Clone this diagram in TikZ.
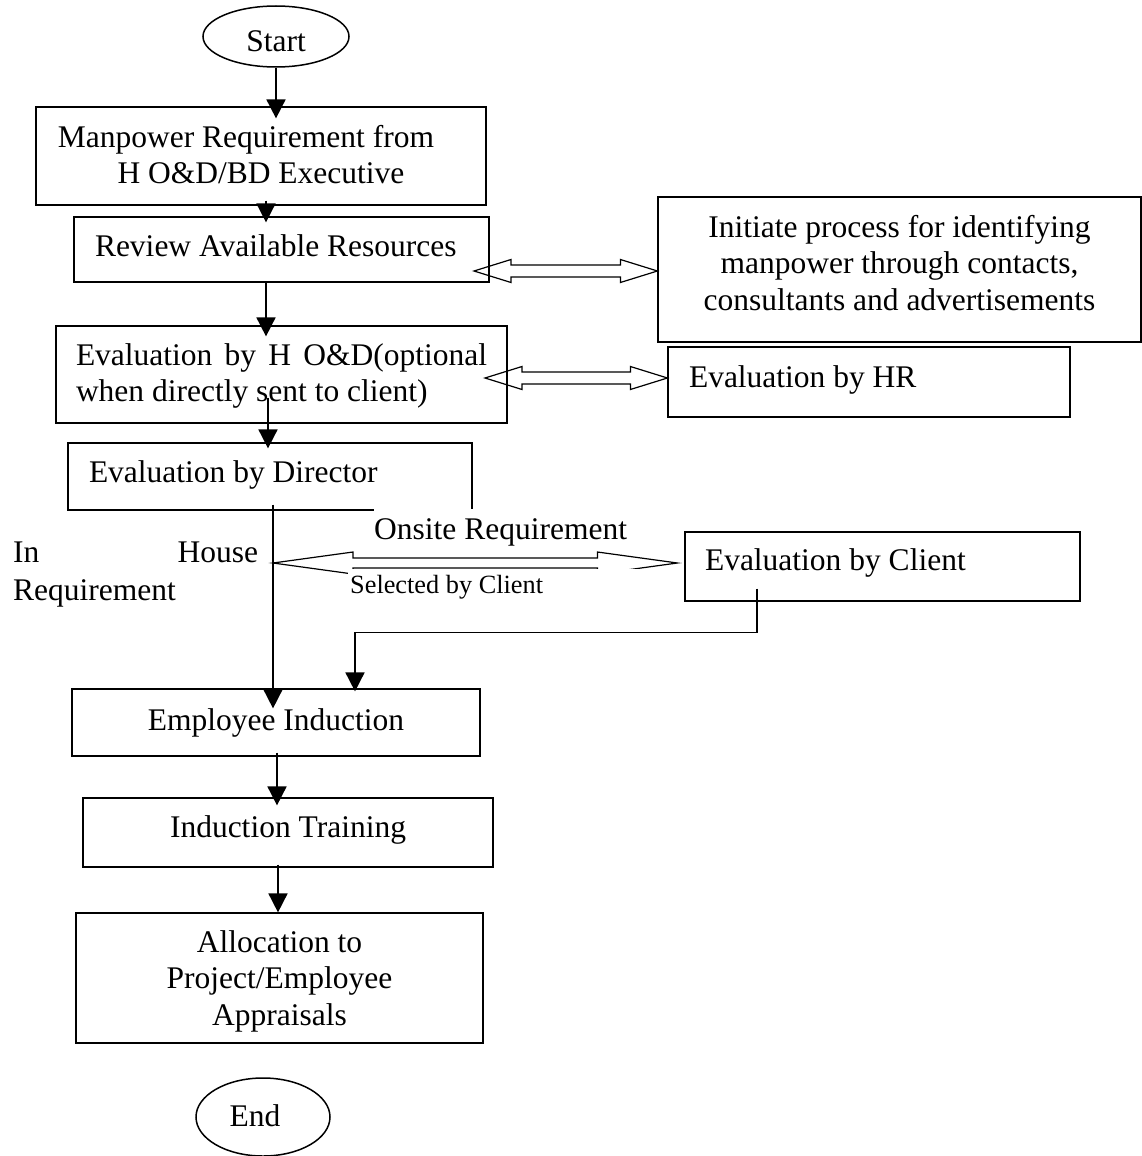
\documentclass[tikz,border=0pt]{standalone}
\usepackage{fontspec}
\setmainfont{Liberation Serif}
\usetikzlibrary{arrows.meta,shapes.geometric,calc}
\newcommand\bigf{\fontsize{31.5pt}{36.5pt}\selectfont}
\newcommand\ihf{\fontsize{31.5pt}{38pt}\selectfont}
\newcommand\smallf{\fontsize{26.3pt}{30pt}\selectfont}
\newcommand\nsp{\spaceskip=0.25em\xspaceskip=0.25em\relax}
% double block arrow: #1 left tip, #2 right tip, #3 head length, #4 shaft half height, #5 head half height
\newcommand\dblarr[5]{%
  \draw[blk] let \p1=(#1), \p2=(#2) in
    (\x1,\y1) -- (\x1+#3,\y1+#5) -- (\x1+#3,\y1+#4) -- (\x2-#3,\y1+#4) -- (\x2-#3,\y1+#5)
    -- (\x2,\y1) -- (\x2-#3,\y1-#5) -- (\x2-#3,\y1-#4) -- (\x1+#3,\y1-#4) -- (\x1+#3,\y1-#5) -- cycle;}
\begin{document}
\begin{tikzpicture}[x=1pt,y=-1pt,
  box/.style={draw,line width=1.2pt,inner sep=0pt,font=\bigf,rectangle},
  term/.style={ellipse,draw,line width=1.5pt,inner sep=0pt,font=\bigf},
  arr/.style={line width=1.7pt,-{Triangle[width=19pt,length=19pt]}},
  blk/.style={draw,line width=1.2pt,line join=miter}]
\useasboundingbox (0,0) rectangle (1142,1156);

% terminals
\node[term, minimum width=146pt, minimum height=61pt, text height=31pt, text depth=0pt] (start) at (276,36.5) {Start};
\node[term, minimum width=134pt, minimum height=78pt, text height=18pt, text depth=0pt] (end) at (263,1117) {End\hspace*{16pt}};

% process boxes
\node[box, minimum width=450pt, minimum height=98pt, text width=450pt, align=center, text height=0pt, text depth=18pt] (mp) at (261,156)
  {\nsp Manpower Requirement from\hspace*{30pt}\mbox{}\\H O\&D/BD Executive};
\node[box, minimum width=415pt, minimum height=65pt, text width=373pt, inner xsep=21pt, align=left, text height=13pt, text depth=0pt] (rv) at (281.5,249.5)
  {\nsp Review Available Resources};
\node[box, minimum width=483pt, minimum height=145pt, text width=483pt, align=center, text height=0pt, text depth=65pt] (ini) at (899.5,269.5)
  {\nsp Initiate process for identifying\\manpower through contacts,\\consultants and advertisements};
\node[box, minimum width=451pt, minimum height=97pt, text width=411pt, inner xsep=20pt, align=justify, text height=0pt, text depth=19pt] (ho) at (281.5,374.5)
  {Evaluation by H O\&D(optional when directly sent to client)};
\node[box, minimum width=402pt, minimum height=70pt, text width=360pt, inner xsep=21pt, align=left, text height=10pt, text depth=0pt] (hr) at (869,382)
  {\nsp Evaluation by HR};
\node[box, minimum width=404pt, minimum height=67pt, text width=362pt, inner xsep=21pt, align=left, text height=11pt, text depth=0pt] (dir) at (270,476.5)
  {\nsp Evaluation by Director};
\node[box, minimum width=395pt, minimum height=69pt, text width=355pt, inner xsep=20pt, align=left, text height=7pt, text depth=0pt] (cl) at (882.5,566.5)
  {\nsp Evaluation by Client};
\node[box, minimum width=408pt, minimum height=67pt, text width=408pt, align=center, text height=15pt, text depth=0pt] (ei) at (276,722.5)
  {\nsp Employee Induction};
\node[box, minimum width=410pt, minimum height=69pt, text width=410pt, align=center, text height=9pt, text depth=0pt] (it) at (288,832.5)
  {\nsp Induction Training};
\node[box, minimum width=407pt, minimum height=130pt, text width=407pt, align=center, text height=0pt, text depth=52pt] (al) at (279.5,978)
  {\nsp Allocation to\\Project/Employee\\Appraisals};

% free label
\node[font=\ihf, text width=245pt, align=left, inner sep=0pt, text height=22pt, text depth=0pt, anchor=north west] (ih) at (13,540)
  {In\hfill House\\Requirement};

% connectors
\draw[arr] (start.south) -- ([yshift=-12pt]start.south |- mp.north);
\draw[arr] ([xshift=5pt,yshift=5pt]mp.south) -- ([xshift=5pt,yshift=-6pt]mp.south |- rv.north);
\draw[arr] ([xshift=-15.5pt]rv.south) -- ([xshift=-15.5pt,yshift=-11pt]rv.south |- ho.north);
\draw[arr] ([xshift=-13.5pt,yshift=26pt]ho.south) -- ([xshift=-13.5pt,yshift=-6pt]ho.south |- dir.north);
\draw[arr] ([xshift=3pt,yshift=6pt]dir.south) -- ([xshift=3pt,yshift=-20pt]dir.south |- ei.north);
\draw[arr] ([xshift=-125.5pt,yshift=13pt]cl.south) -- ++(0,44) -| ([xshift=79pt,yshift=-3pt]ei.north);
\draw[arr] ([xshift=1pt,yshift=4pt]ei.south) -- ([xshift=1pt,yshift=-8pt]ei.south |- it.north);
\draw[arr] ([xshift=-10pt,yshift=3pt]it.south) -- ([xshift=-10pt]it.south |- al.north);

% double block arrows
\coordinate (a1) at (474,271);
\coordinate (a2) at (485,378);
\coordinate (a3) at (273,563);
\dblarr{a1}{a1 -| ini.west}{37pt}{6pt}{11.5pt}
\dblarr{a2}{a2 -| hr.west}{37pt}{6pt}{11.5pt}
\dblarr{a3}{[xshift=-7pt]a3 -| cl.west}{80pt}{5pt}{11pt}

% labels on the onsite arrow (white boxes hide what lies under them)
\node[font=\bigf, fill=white, inner sep=0pt, text height=30pt, text depth=8pt, anchor=base west] (on) at (374,539) {Onsite Requirement};
\node[font=\smallf, fill=white, inner xsep=2pt, inner ysep=0pt, text width=288pt, align=left, text height=24pt, text depth=10pt, anchor=base west] (sel) at (348,593) {\nsp Selected by Client};
\end{tikzpicture}
\end{document}
